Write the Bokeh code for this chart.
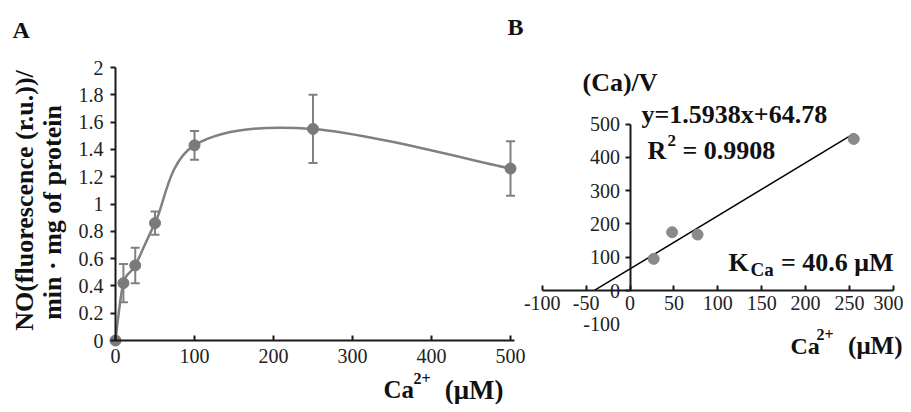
import numpy as np
from bokeh.plotting import figure
from bokeh.models import (Range1d, LinearAxis, FixedTicker, Whisker, TeeHead,
                          ColumnDataSource, Label, CustomJSTickFormatter)
from bokeh.embed import file_html
from bokeh.resources import INLINE

# ---------------- data ----------------
# Panel A: NO production vs Ca2+
ca_a = [0, 10, 25, 50, 100, 250, 500]
no_a = [0, 0.42, 0.55, 0.86, 1.43, 1.55, 1.26]
err_a = [0, 0.14, 0.13, 0.085, 0.105, 0.25, 0.2]
a_xticks = [0, 100, 200, 300, 400, 500]
a_yticks = [0, 0.2, 0.4, 0.6, 0.8, 1, 1.2, 1.4, 1.6, 1.8, 2]

# Panel B: linearisation, (Ca)/V vs Ca2+
ca_b = [27, 48, 77, 255]
ratio_b = [95, 175, 168, 455]
fit_slope = 1.5938
fit_intercept = 64.78
fit_x = [-40.6, 255]
b_xticks = [-100, -50, 0, 50, 100, 150, 200, 250, 300]
b_yticks = [0, 100, 200, 300, 400, 500]
b_yticks_neg = [-100]

FONT = "Liberation Serif"
DARK = "#1a1a1a"
GREY = "#808080"

# ---------------- geometry (screenshot px) ----------------
W, H = 903, 404
FL, FR, FT, FB = 0, W, 0, H              # frame = whole canvas
A_X0, A_SX = 115, 0.79                   # px of x=0, px per unit
A_Y0, A_SY = 340, 136.5
B_X0, B_SX = 629.5, 0.8775
B_Y0, B_SY = 290, 0.333

def ax_(px):
    return (px - A_X0) / A_SX

def ay_(py):
    return (A_Y0 - py) / A_SY

p = figure(width=W, height=H, frame_width=W, frame_height=H, min_border=0,
           x_range=Range1d(ax_(FL), ax_(FR)), y_range=Range1d(ay_(FB), ay_(FT)),
           x_axis_location=None, y_axis_location=None,
           output_backend="svg", toolbar_location=None)
p.extra_x_ranges = {"xb": Range1d((FL - B_X0) / B_SX, (FR - B_X0) / B_SX)}
p.extra_y_ranges = {"yb": Range1d((B_Y0 - FB) / B_SY, (B_Y0 - FT) / B_SY)}
p.xgrid.visible = False
p.ygrid.visible = False
p.outline_line_color = None
p.background_fill_color = "white"
p.border_fill_color = "white"

fmt = CustomJSTickFormatter(code="return String(tick);")

def make_axis(side, ticks, bounds, tick_in, tick_out, standoff,
              xr="default", yr="default"):
    axis = LinearAxis(x_range_name=xr, y_range_name=yr, fixed_location=0,
                      ticker=FixedTicker(ticks=ticks), formatter=fmt)
    if bounds is not None:
        axis.bounds = bounds
    axis.axis_line_color = DARK
    axis.axis_line_width = 2
    axis.major_tick_line_color = DARK
    axis.major_tick_line_width = 2
    axis.minor_tick_line_color = None
    axis.major_tick_in = tick_in
    axis.major_tick_out = tick_out
    axis.major_label_standoff = standoff
    axis.major_label_text_font = FONT
    axis.major_label_text_font_size = "20px"
    axis.major_label_text_color = "#222222"
    p.add_layout(axis, side)
    return axis

# Panel A axes
make_axis("below", a_xticks, (0, 505), 5, 0, 8)
make_axis("left", a_yticks, (0, 2), 0, 5, 7)

# Panel B axes (crossing at the origin)
make_axis("below", b_xticks, (-100, 300), 5, 0, 5, "xb", "yb")
make_axis("left", b_yticks, (0, 500), 0, 5, 5, "xb", "yb")
neg = make_axis("left", b_yticks_neg, None, 0, 5, 5, "xb", "yb")
neg.axis_line_color = None
neg.major_tick_line_color = None

# ---------------- Panel A glyphs ----------------
xs = np.array(ca_a, dtype=float)
ys = np.array(no_a, dtype=float)
n = len(xs)
x0, y0, x1, y1, cx0, cy0, cx1, cy1 = ([] for _ in range(8))
for i in range(n - 1):
    im = max(i - 1, 0)
    ip = min(i + 2, n - 1)
    x0.append(xs[i]); y0.append(ys[i])
    x1.append(xs[i + 1]); y1.append(ys[i + 1])
    cx0.append(xs[i] + (xs[i + 1] - xs[im]) / 6)
    cy0.append(ys[i] + (ys[i + 1] - ys[im]) / 6)
    cx1.append(xs[i + 1] - (xs[ip] - xs[i]) / 6)
    cy1.append(ys[i + 1] - (ys[ip] - ys[i]) / 6)
p.bezier(x0=x0, y0=y0, x1=x1, y1=y1, cx0=cx0, cy0=cy0, cx1=cx1, cy1=cy1,
         line_color=GREY, line_width=2.5)

mask = [e > 0 for e in err_a]
err_src = ColumnDataSource(dict(
    x=[c for c, m in zip(ca_a, mask) if m],
    upper=[v + e for v, e, m in zip(no_a, err_a, mask) if m],
    lower=[v - e for v, e, m in zip(no_a, err_a, mask) if m]))
p.add_layout(Whisker(source=err_src, base="x", upper="upper", lower="lower",
                     line_color=GREY, line_width=2,
                     upper_head=TeeHead(size=9, line_color=GREY, line_width=2),
                     lower_head=TeeHead(size=9, line_color=GREY, line_width=2)))
p.scatter(ca_a, no_a, marker="circle", size=11, color="#7a7a7a")

# ---------------- Panel B glyphs ----------------
fit_y = [fit_slope * v + fit_intercept for v in fit_x]
p.line(fit_x, fit_y, line_color="black", line_width=1.5,
       x_range_name="xb", y_range_name="yb")
p.scatter(ca_b, ratio_b, marker="circle", size=11, color="#8a8a8a",
          x_range_name="xb", y_range_name="yb")

# ---------------- texts ----------------
def txt(px, py, s, size, align="left", rotated=False, color="#111111"):
    if rotated:
        kw = dict(x=ax_(px - 3), y=ay_(py), angle=np.pi / 2,
                  text_align="center", text_baseline="middle")
    else:
        kw = dict(x=ax_(px), y=ay_(py - 8), angle=0,
                  text_align=align, text_baseline="alphabetic")
    p.add_layout(Label(text=s, text_font=FONT, text_font_size=f"{size}px",
                       text_font_style="bold", text_color=color, **kw))

txt(12, 37, "A", 24)
txt(507, 34, "B", 24)

txt(27, 200, "NO(fluorescence (r.u.))/", 26, rotated=True)
txt(55, 212, "min \u00b7 mg of protein", 26, rotated=True)

txt(383, 397, "Ca", 25)
txt(413, 386, "2+", 16)
txt(503, 397, "(\u03bcM)", 27, align="right")

txt(582, 90, "(Ca)/V", 26)
txt(641, 122, "y=1.5938x+64.78", 26)
txt(647, 158, "R", 26)
txt(667, 148, "2", 17)
txt(682, 158, "= 0.9908", 26)
txt(728, 270, "K", 26)
txt(750, 277, "Ca", 19)
txt(893, 270, "= 40.6 \u03bcM", 26, align="right")

txt(790, 353, "Ca", 24)
txt(816, 342, "2+", 16)
txt(902, 353, "(\u03bcM)", 25, align="right")

open("out.html", "w").write(file_html(p, INLINE))
